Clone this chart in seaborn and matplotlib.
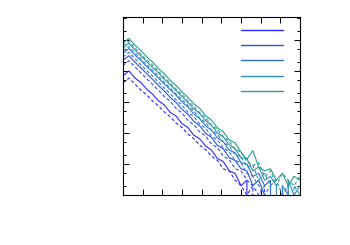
import matplotlib
matplotlib.use("Agg")
import matplotlib.pyplot as plt
from matplotlib.lines import Line2D
from matplotlib.ticker import LogLocator, MultipleLocator, NullFormatter
import pandas as pd
import seaborn as sns

# bin centres (one every 3 units)
x_bins = list(range(0, 91, 3))

# counts per bin (solid = run a, dashed = run b)
teal_a = [80000, 112000, 69000, 46000, 29000, 19500, 12000, 8100, 5000, 3400, 2100,
          1400, 880, 620, 360, 260, 145, 110, 60, 48, 24, 14, 27, 8, 6, 7, 3, 5, 2, 4, 3]
teal_b = [66000, 90000, 56000, 35000, 23000, 15500, 9800, 6200, 4100, 2600, 1750,
          1080, 720, 450, 310, 180, 130, 76, 55, 30, 24, 12, 9, 11, 4, 6, 2, 5, 3, 2, 4]
steel_a = [55000, 78000, 48000, 31000, 20000, 13000, 8600, 5400, 3600, 2300, 1500,
           950, 600, 420, 250, 175, 100, 74, 42, 31, 16, 15, 6, 8, 3, 4, 2, 0, 3, 1, 2]
steel_b = [44000, 61000, 39000, 25000, 16000, 10500, 6800, 4300, 2850, 1800, 1200,
           760, 520, 300, 215, 125, 90, 52, 38, 20, 17, 8, 9, 3, 5, 2, 3, 1, 0, 2, 1]
mid_a = [37000, 53000, 33000, 22000, 14000, 9300, 5900, 3800, 2500, 1650, 1000,
         690, 410, 290, 170, 122, 70, 52, 28, 23, 11, 10, 4, 5, 2, 3, 0, 2, 1, 0, 1]
mid_b = [28000, 40000, 25000, 16000, 10400, 6800, 4400, 2800, 1850, 1150, 780,
         470, 335, 195, 140, 80, 60, 33, 25, 13, 11, 5, 4, 2, 1, 2, 0, 1, 2, 0, 1]
royal_a = [22000, 31000, 19500, 12700, 8200, 5400, 3400, 2250, 1400, 960, 580,
           400, 240, 170, 98, 72, 40, 31, 16, 13, 7, 6, 2, 3, 1, 0, 1, 0, 1, 0, 0]
royal_b = [15000, 21500, 13600, 8800, 5700, 3700, 2400, 1500, 1040, 620, 440,
           255, 185, 108, 80, 44, 34, 18, 14, 7, 6, 3, 2, 1, 2, 0, 1, 0, 0, 1, 0]
blue_a = [7000, 10000, 6000, 4300, 2600, 1800, 1100, 800, 460, 350, 200,
          150, 85, 65, 38, 28, 15, 12, 6, 5, 2, 3, 0, 1, 0, 1, 0, 0, 1, 0, 0]
blue_b = [4100, 5900, 3800, 2450, 1700, 1080, 750, 480, 330, 210, 150,
          92, 66, 40, 29, 18, 13, 7, 6, 3, 2, 1, 2, 0, 1, 0, 0, 1, 0, 0, 0]

groups = ["blue", "royal", "mid", "steel", "teal"]
colors = ["#2b2bff", "#2a50e8", "#2f6fd6", "#2e8fb5", "#2a9d8f"]
runs = {
    ("blue", "a"): blue_a, ("blue", "b"): blue_b,
    ("royal", "a"): royal_a, ("royal", "b"): royal_b,
    ("mid", "a"): mid_a, ("mid", "b"): mid_b,
    ("steel", "a"): steel_a, ("steel", "b"): steel_b,
    ("teal", "a"): teal_a, ("teal", "b"): teal_b,
}

rows = []
for (g, r), vals in runs.items():
    for xv, yv in zip(x_bins, vals):
        rows.append({"x": xv, "count": yv, "group": g, "run": r})
df = pd.DataFrame(rows)

sns.set_style("ticks")
fig = plt.figure(figsize=(3.5, 2.45), dpi=100)
ax = fig.add_axes([123 / 350, 1 - 195 / 245, 177 / 350, 178 / 245])

sns.lineplot(data=df, x="x", y="count", hue="group", style="run",
             hue_order=groups, palette=dict(zip(groups, colors)),
             dashes={"a": "", "b": (3, 2)}, estimator=None, sort=False,
             linewidth=0.8, legend=False, ax=ax)

ax.set_yscale("log")
ax.set_xlim(0, 90)
ax.set_ylim(1, 10 ** 5.74)
ax.xaxis.set_major_locator(MultipleLocator(10))
ax.yaxis.set_major_locator(LogLocator(base=10))
ax.yaxis.set_minor_locator(LogLocator(base=10, subs=[2, 5]))
ax.xaxis.set_major_formatter(NullFormatter())
ax.yaxis.set_major_formatter(NullFormatter())
ax.yaxis.set_minor_formatter(NullFormatter())
ax.set_xlabel("")
ax.set_ylabel("")
ax.tick_params(which="both", direction="in", top=True, right=True, color="black")
ax.tick_params(which="major", length=4, width=0.7)
ax.tick_params(which="minor", length=2.5, width=0.7)
for sp in ax.spines.values():
    sp.set_color("black")
    sp.set_linewidth(0.8)

# legend: five coloured lines, no text
handles = [Line2D([], [], color=c, lw=1.0) for c in colors]
ax.legend(handles, [""] * 5, loc="upper right", frameon=False, fontsize=7,
          handlelength=4.3, labelspacing=0.55, handletextpad=0.0, borderpad=0.0,
          borderaxespad=0.0, bbox_to_anchor=(0.904, 0.955))

fig.savefig("out.png", dpi=100)
